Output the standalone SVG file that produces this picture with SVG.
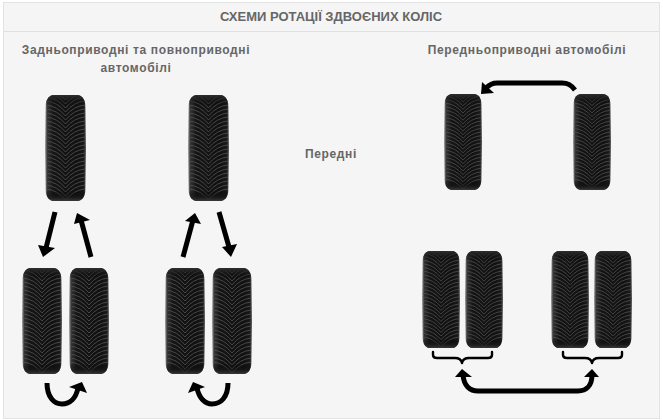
<svg xmlns="http://www.w3.org/2000/svg" width="663" height="420" viewBox="0 0 663 420">
<style>
text{font-family:"Liberation Sans",Arial,sans-serif;fill:#666;text-anchor:middle}
.h{font-size:13px;font-weight:700}
.t{font-size:12px;font-weight:700;letter-spacing:.64px}
.ln{fill:none;stroke:#000;stroke-width:5}
.br{fill:none;stroke:#000;stroke-width:2.4;stroke-linecap:round;stroke-linejoin:round}
.gr{fill:none;stroke:#4e4e4e;stroke-width:.9}
.hd{fill:#000}
</style>
<defs>
<linearGradient id="side"><stop offset="0" stop-color="#aaa"/><stop offset=".06" stop-color="#333"/><stop offset=".2" stop-color="#141414"/><stop offset=".8" stop-color="#111"/><stop offset=".95" stop-color="#1a1a1a"/><stop offset="1" stop-color="#666"/></linearGradient>
<linearGradient id="shade" x2="0" y2="1"><stop offset="0" stop-color="#2e2e2e"/><stop offset=".05" stop-color="#1a1a1a" stop-opacity=".5"/><stop offset=".1" stop-color="#000" stop-opacity="0"/><stop offset=".9" stop-color="#000" stop-opacity="0"/><stop offset=".96" stop-color="#1a1a1a" stop-opacity=".6"/><stop offset="1" stop-color="#3a3a3a"/></linearGradient>
<path id="body" d="M9 0H31C36 0 39 4 39.400 11L40 53L39.400 95C39 102 36 106 31 106H9C4 106 1 102 .6 95L0 53L.6 11C1 4 4 0 9 0Z"/>
<clipPath id="tc"><use href="#body"/></clipPath>
<path id="c" class="gr" d="M1 0Q12 1 20 11Q28 1 39 0"/>
<symbol id="tire" viewBox="0 0 40 106" preserveAspectRatio="none">
<use href="#body" fill="url(#side)"/>
<g clip-path="url(#tc)">
<use href="#c" y="-6"/><use href="#c" y="-2"/><use href="#c" y="2"/><use href="#c" y="6"/><use href="#c" y="10"/><use href="#c" y="14"/><use href="#c" y="18"/><use href="#c" y="22"/><use href="#c" y="26"/><use href="#c" y="30"/><use href="#c" y="34"/><use href="#c" y="38"/><use href="#c" y="42"/><use href="#c" y="46"/><use href="#c" y="50"/><use href="#c" y="54"/><use href="#c" y="58"/><use href="#c" y="62"/><use href="#c" y="66"/><use href="#c" y="70"/><use href="#c" y="74"/><use href="#c" y="78"/><use href="#c" y="82"/><use href="#c" y="86"/><use href="#c" y="90"/><use href="#c" y="94"/>
</g>
<use href="#body" fill="url(#shade)"/>
</symbol>
</defs>
<rect width="663" height="420" fill="#fff"/>
<rect id="panel" x="3.500" y="2.500" width="656" height="416" fill="#f5f5f5" stroke="#e3e3e3"/>
<line x1="4" y1="31.500" x2="659" y2="31.500" stroke="#e0e0e0"/>
<text class="h" x="331" y="21">СХЕМИ РОТАЦІЇ ЗДВОЄНИХ КОЛІС</text>
<text class="t" x="136" y="54">Задньоприводні та повноприводні</text>
<text class="t" x="136" y="72">автомобілі</text>
<text class="t" x="527" y="54">Передньоприводні автомобілі</text>
<text class="t" x="331" y="158">Передні</text>
<g id="tire-rwd-front-left"><use href="#tire" x="45" y="95" width="41" height="106"/></g>
<g id="tire-rwd-front-right"><use href="#tire" x="188" y="95" width="41" height="106"/></g>
<g id="tire-rwd-rear-left-outer"><use href="#tire" x="22" y="268" width="40" height="106"/></g>
<g id="tire-rwd-rear-left-inner"><use href="#tire" x="69" y="268" width="40" height="106"/></g>
<g id="tire-rwd-rear-right-inner"><use href="#tire" x="165" y="268" width="40" height="106"/></g>
<g id="tire-rwd-rear-right-outer"><use href="#tire" x="212" y="268" width="40" height="106"/></g>
<g id="tire-fwd-front-left"><use href="#tire" x="444" y="94" width="38" height="96"/></g>
<g id="tire-fwd-front-right"><use href="#tire" x="573" y="94" width="38" height="96"/></g>
<g id="tire-fwd-rear-left-outer"><use href="#tire" x="422" y="251" width="38" height="97"/></g>
<g id="tire-fwd-rear-left-inner"><use href="#tire" x="465" y="251" width="38" height="97"/></g>
<g id="tire-fwd-rear-right-inner"><use href="#tire" x="551" y="251" width="38" height="97"/></g>
<g id="tire-fwd-rear-right-outer"><use href="#tire" x="594" y="251" width="38" height="97"/></g>
<g id="connectors">
<path class="ln" d="M55 212L46 248"/><path class="hd" d="M38 245L55 248L43 257Z"/>
<path class="ln" d="M91 257L81 220"/><path class="hd" d="M77 213L90 220L74 224Z"/>
<path class="ln" d="M183 257L193 220"/><path class="hd" d="M195 213L201 224L185 221Z"/>
<path class="ln" d="M219 212L229 247"/><path class="hd" d="M231 257L222 247L237 244Z"/>
<path class="ln" d="M47 383C47 397 54 404 62 404C70 404 76 398 78 388"/><path class="hd" d="M82 382L87 393L69 387Z"/>
<path class="ln" d="M228 383C228 397 221 404 212 404C205 404 199 398 197 388"/><path class="hd" d="M193 382L205 387L188 393Z"/>
<path class="ln" d="M575 90C571 85 568 83 562 83L497 83C492 83 489 85 486 88"/><path class="hd" d="M482 82L494 93L481 94Z"/>
<path class="ln" d="M463 375C464 386 470 391 478 391L578 391C586 391 592 386 592 375"/><path class="hd" d="M462 369L472 377L455 377Z"/><path class="hd" d="M592 369L599 377L584 377Z"/>
<path class="br" d="M433 352V355Q433 358 437 358H455Q461 358 462 363Q463 358 469 358H488Q492 358 492 355V352"/>
<path class="br" d="M563 352V355Q563 358 567 358H585Q591 358 592 363Q593 358 599 358H618Q622 358 622 355V352"/>
</g>
</svg>
